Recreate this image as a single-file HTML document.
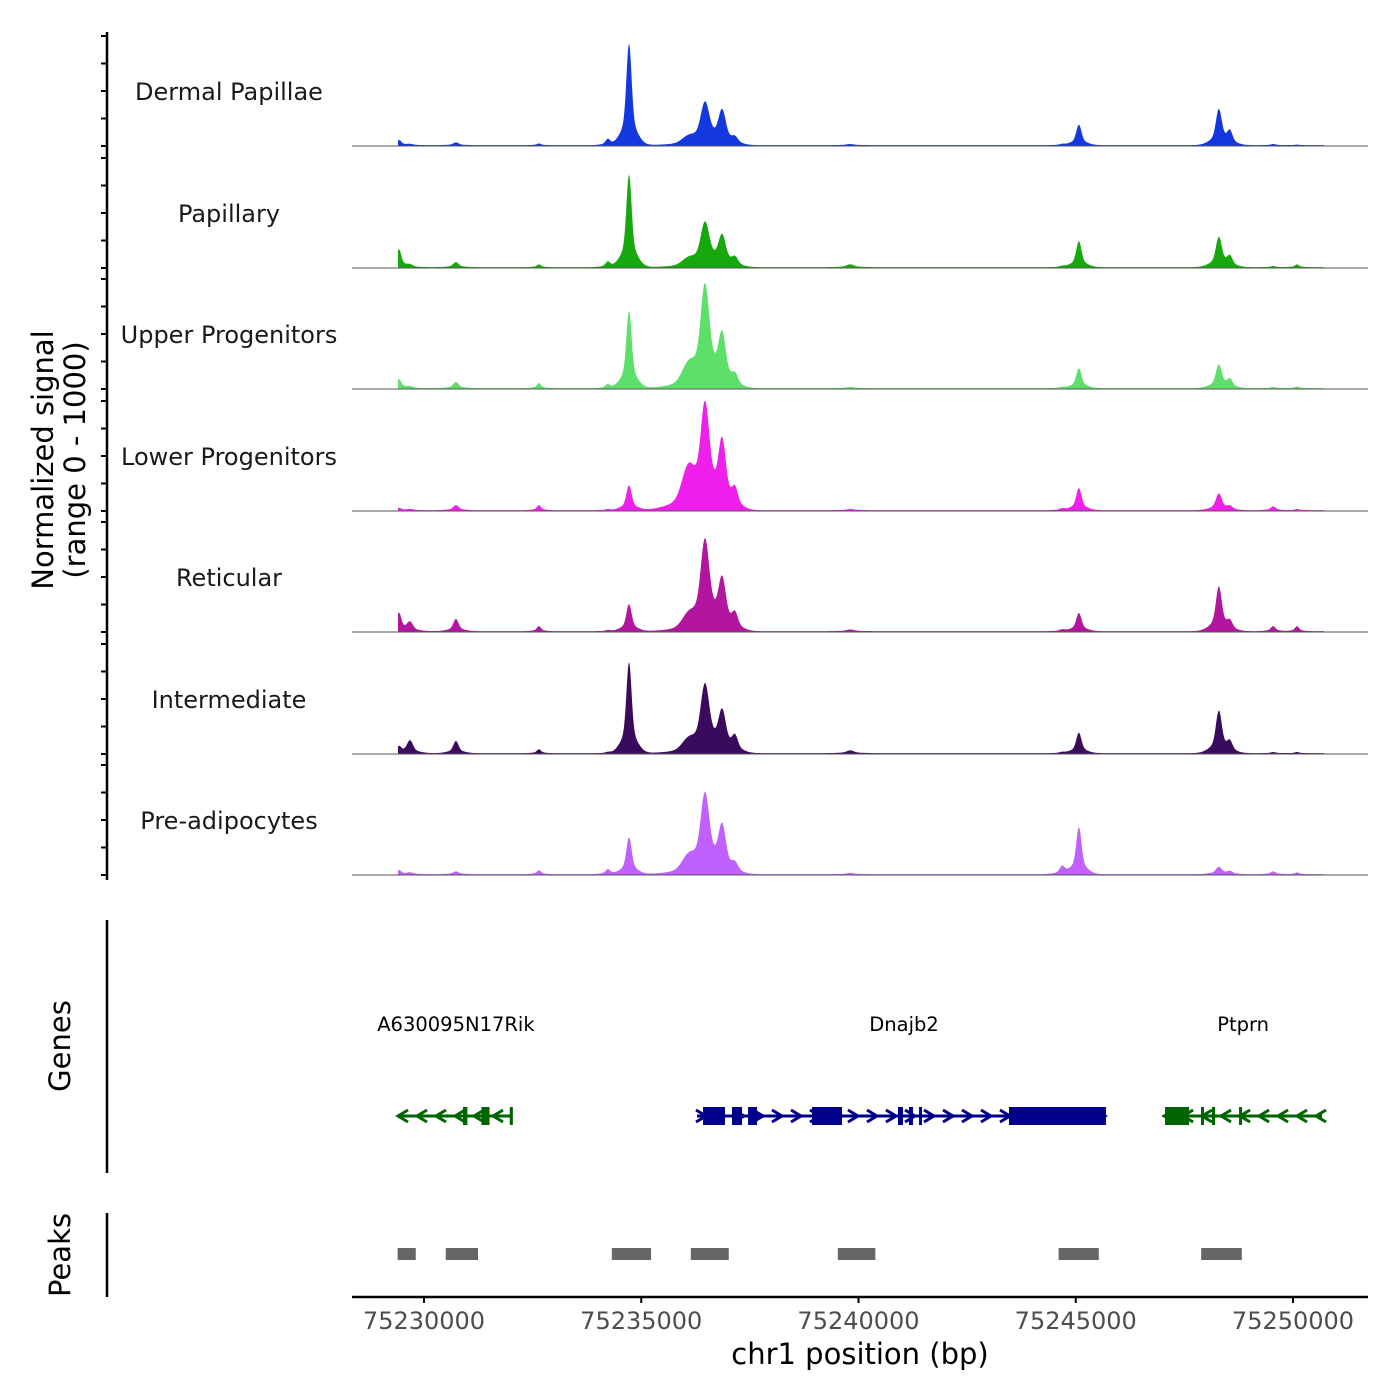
<!DOCTYPE html>
<html><head><meta charset="utf-8"><style>
body{margin:0;background:#fff}
svg{display:block}
text{font-family:"DejaVu Sans","Liberation Sans",sans-serif}
</style></head><body>
<svg id="c" width="1400" height="1400" xmlns="http://www.w3.org/2000/svg"></svg>
<script>
// ---- data ----
const trackNames = ["Dermal Papillae","Papillary","Upper Progenitors","Lower Progenitors","Reticular","Intermediate","Pre-adipocytes"];
const trackColors = ["#1338e0","#16a80c","#5ce06a","#f020ec","#b3169e","#3a0a5c","#c060ff"];
const peakPos = [75229424,75229678,75230735,75232645,75234230,75234718,75236080,75236466,75236862,75237157,75239809,75244686,75245072,75248293,75248547,75249543,75250092];
const peakWidth = [70,90,80,60,70,80,200,130,110,90,110,80,80,90,80,70,60];
const sigDermal   = [45,10,25,15,55,920,60,370,290,50,10,10,185,320,110,10,5];
const sigPapillary= [160,20,45,25,50,840,60,390,260,70,25,10,235,270,85,10,25];
const sigUpper    = [80,15,55,45,35,700,170,900,430,90,10,10,180,210,70,10,15];
const sigLower    = [20,10,45,45,10,225,340,900,560,150,10,15,200,150,30,35,10];
const sigReticular= [160,80,110,45,10,245,110,800,420,130,15,15,165,400,70,45,45];
const sigInterm   = [55,115,110,35,10,825,95,600,340,130,25,10,185,380,85,10,10];
const sigPreAdipo = [35,15,25,35,45,335,130,700,395,70,10,70,425,65,25,25,15];
const signals = [sigDermal,sigPapillary,sigUpper,sigLower,sigReticular,sigInterm,sigPreAdipo];
const xTicks = [75230000,75235000,75240000,75245000,75250000];
const peakStarts = [75229393,75230501,75234322,75236141,75239524,75244605,75247887];
const peakEnds   = [75229810,75231243,75235226,75237014,75240388,75245530,75248822];
const geneStarts=[75229425,75236283,75247055];
const geneEnds=[75232025,75245696,75250668];
const geneLabelPos=[75230735,75241048,75248852];
const geneStrand=[-1,1,-1];
const geneNames=["A630095N17Rik","Dnajb2","Ptprn"];
const geneColors=["#006400","#00008b","#006400"];
const exonStarts=[[75230897,75231324,75231974],[75236421,75237089,75237458,75238930,75240909,75241162,75241393,75243463],[75247055,75247883,75248136,75248758]];
const exonEnds  =[[75230999,75231507,75232045],[75236927,75237319,75237665,75239621,75241024,75241255,75241462,75245696],[75247607,75247928,75248159,75248781]];

const NS="http://www.w3.org/2000/svg";
const svg=document.getElementById('c');
function el(t,a,p){const e=document.createElementNS(NS,t);for(const k in a)e.setAttribute(k,a[k]);(p||svg).appendChild(e);return e;}
const X0=352,X1=1368;
function xs(bp){return 424+(bp-75230000)*869/20000;}
function xinv(px){return 75230000+(px-424)*20000/869;}
const baselines=[146,268,389,511,632,754,875];
function ys(b,v){return b-v*0.11;}

// left axis
let ax=el('line',{x1:107,y1:32,x2:107,y2:880,stroke:'#000','stroke-width':2.5});

baselines.forEach(b=>{for(let v=0;v<=1000;v+=250){el('line',{x1:101,x2:107,y1:ys(b,v),y2:ys(b,v),stroke:'#000','stroke-width':2});}});
let yt=el('text',{transform:'translate(53,460) rotate(-90)','text-anchor':'middle','font-size':29});
yt.textContent='Normalized signal';

let yt2=el('text',{transform:'translate(85,460) rotate(-90)','text-anchor':'middle','font-size':29});
yt2.textContent='(range 0 - 1000)';


// tracks
signals.forEach((sig,ti)=>{
  const b=baselines[ti];
  const g=el('g',{});
  
  
  let pts=[];
  for(let px=398;px<=1324;px+=0.5){
    const bp=xinv(px);
    let v=0;
    peakPos.forEach((c,i)=>{
      const d=(bp-c)/peakWidth[i];
      const d2=(bp-c)/(peakWidth[i]*3);
      v+=sig[i]*(0.75*Math.exp(-d*d)+0.25*Math.exp(-d2*d2));
    });
    v+=8;
    pts.push(px+','+ys(b,Math.min(v,1000)).toFixed(2));
  }
  const area=el('polygon',{points:'398,'+b+' '+pts.join(' ')+' 1324,'+b,fill:trackColors[ti]},g);
  
  el('line',{x1:X0,x2:X1,y1:b,y2:b,stroke:'#555','stroke-width':1},g);
  const lab=el('text',{x:229,y:b-54+8,'text-anchor':'middle','font-size':24,fill:'#1a1a1a'},g);
  lab.textContent=trackNames[ti];
  
});

// genes
let ga=el('line',{x1:107,y1:920,x2:107,y2:1173,stroke:'#000','stroke-width':2.5});

let gt=el('text',{transform:'translate(70,1046) rotate(-90)','text-anchor':'middle','font-size':29});
gt.textContent='Genes';
geneStarts.forEach((s,i)=>{
  const g=el('g',{});
  
  
  const xa=xs(s),xb=xs(geneEnds[i]),c=geneColors[i],y=1116;
  el('line',{x1:xa,x2:xb,y1:y,y2:y,stroke:c,'stroke-width':3},g);
  for(let x=xa+4;x<xb;x+=19){
    const d=geneStrand[i]*5;
    el('polyline',{points:(x-d)+','+(y-6)+' '+(x+d)+','+y+' '+(x-d)+','+(y+6),fill:'none',stroke:c,'stroke-width':3},g);
  }
  exonStarts[i].forEach((es,j)=>{
    const ex=el('rect',{x:xs(es),y:1107,width:Math.max(3,xs(exonEnds[i][j])-xs(es)),height:18,fill:c},g);
    
  });
  const lt=el('text',{x:xs(geneLabelPos[i]),y:1031,'text-anchor':'middle','font-size':19.5,fill:'#000'},g);
  lt.textContent=geneNames[i];
  
});

// peaks
let pa=el('line',{x1:107,y1:1213,x2:107,y2:1297,stroke:'#000','stroke-width':2.5});

let pt=el('text',{transform:'translate(70,1255) rotate(-90)','text-anchor':'middle','font-size':29});
pt.textContent='Peaks';
peakStarts.forEach((s,i)=>{
  const r=el('rect',{x:xs(s),y:1248,width:xs(peakEnds[i])-xs(s),height:12,fill:'#666'});
  
});

// x axis
let xa=el('line',{x1:X0,x2:X1,y1:1297,y2:1297,stroke:'#000','stroke-width':2.5});

xTicks.forEach(t=>{
  el('line',{x1:xs(t),x2:xs(t),y1:1297,y2:1303,stroke:'#000','stroke-width':2});
  const tl=el('text',{x:xs(t),y:1329,'text-anchor':'middle','font-size':24,fill:'#4d4d4d'});
  tl.textContent=t;
  
});
let xt=el('text',{x:860,y:1364,'text-anchor':'middle','font-size':29});
xt.textContent='chr1 position (bp)';

</script>
</body></html>
